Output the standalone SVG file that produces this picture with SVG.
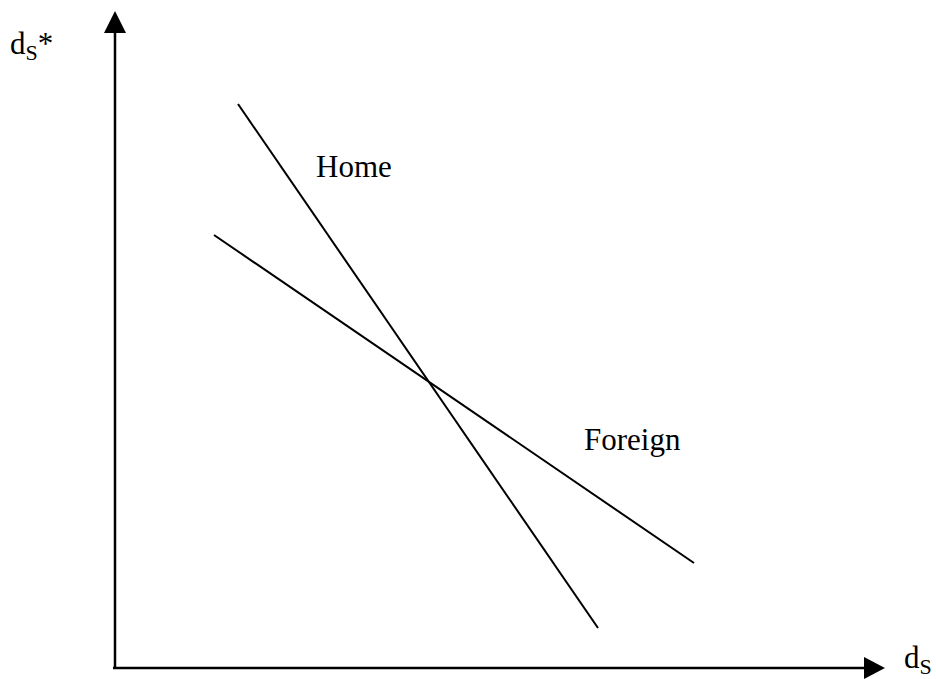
<svg xmlns="http://www.w3.org/2000/svg" width="936" height="679" viewBox="0 0 936 679">
<style>
.ax{stroke:#000;stroke-width:2.5;fill:none}
.ln{stroke:#000;stroke-width:2;fill:none}
.t{font-family:"Liberation Serif",serif;font-size:31px;fill:#000}
.s{font-size:22px}
</style>
<rect width="936" height="679" fill="#fff"/>
<g id="axes">
<line class="ax" x1="115" y1="668" x2="115" y2="30"/>
<polygon points="115,11 104,33 126,33" fill="#000"/>
<line class="ax" x1="113" y1="668" x2="866" y2="668"/>
<polygon points="885,668 864,657 864,679" fill="#000"/>
</g>
<g id="labels">
<text class="t" x="10" y="54">d<tspan class="s" dy="6">S</tspan><tspan dy="-6">*</tspan></text>
<text class="t" x="904" y="668">d<tspan class="s" dy="6">S</tspan></text>
</g>
<g id="connectors">
<g id="home"><line class="ln" x1="238" y1="104" x2="598" y2="628"/><text class="t" x="316" y="177">Home</text></g>
<g id="foreign"><line class="ln" x1="214" y1="235" x2="694" y2="563"/><text class="t" x="584" y="450">Foreign</text></g>
</g>
</svg>
